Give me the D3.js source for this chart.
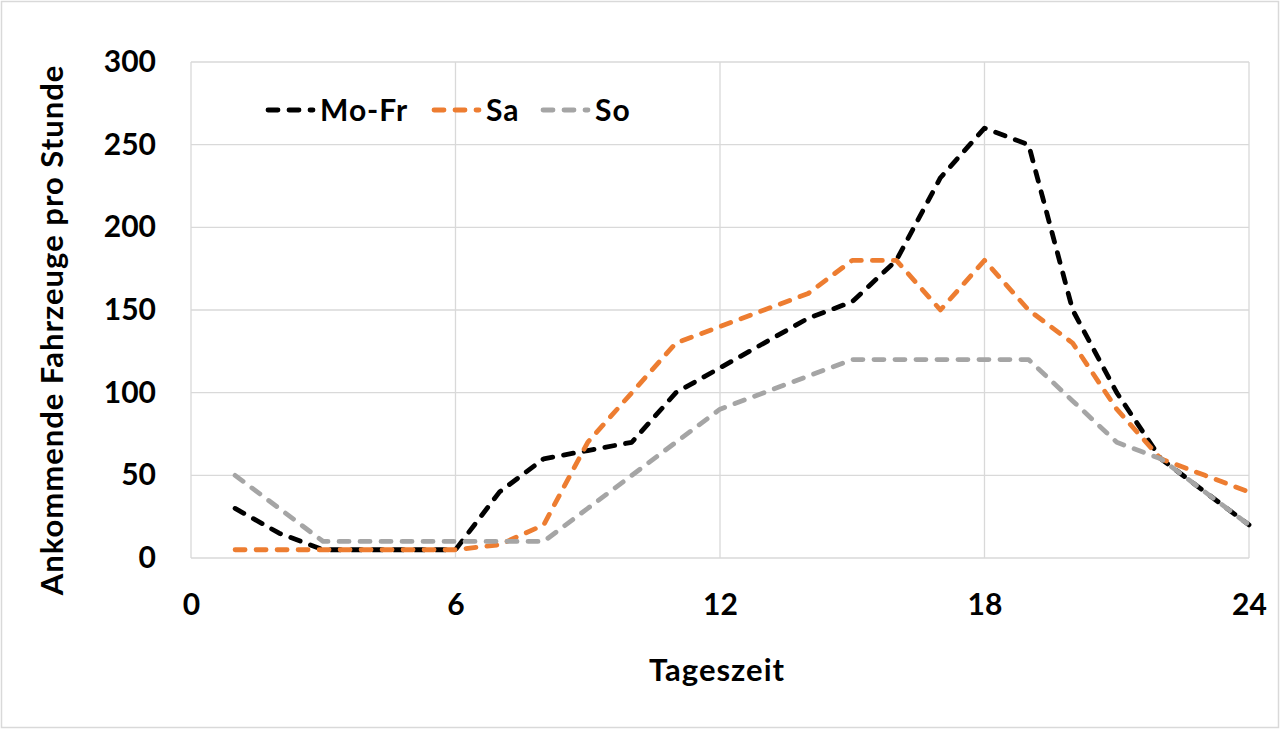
<!DOCTYPE html>
<html>
<head>
<meta charset="utf-8">
<script src="https://cdn.jsdelivr.net/npm/d3@7"></script>
<style>
  body { margin: 0; background: #fff; }
  text { font-family: Lato, "Open Sans", sans-serif; font-weight: bold; fill: #000; }
</style>
</head>
<body>
<div id="container"></div>
<script>
/* CONSTANTS AND GLOBALS */
const width = 1280;
const height = 729;
const margin = { top: 62, right: 31, bottom: 171, left: 191 };

/* DATA */
const hours = [1, 2, 3, 4, 5, 6, 7, 8, 9, 10, 11, 12, 13, 14, 15, 16, 17, 18, 19, 20, 21, 22, 23, 24];
const moFr = [30, 15, 5, 5, 5, 5, 40, 60, 65, 70, 100, 115, 130, 145, 155, 180, 230, 260, 250, 150, 100, 60, 40, 20];
const sa   = [5, 5, 5, 5, 5, 5, 8, 20, 70, 100, 130, 140, 150, 160, 180, 180, 150, 180, 150, 130, 90, 60, 50, 40];
const so   = [50, 30, 10, 10, 10, 10, 10, 10, 30, 50, 70, 90, 100, 110, 120, 120, 120, 120, 120, 95, 70, 60, 40, 20];
const seriesNames = ["Mo-Fr", "Sa", "So"];
const colors = ["#000000", "#ED7D31", "#A5A5A5"];
const xTicks = [0, 6, 12, 18, 24];
const yTicks = [0, 50, 100, 150, 200, 250, 300];

const series = [moFr, sa, so].map((vals, i) => ({
  name: seriesNames[i],
  color: colors[i],
  values: vals.map((v, j) => ({ h: hours[j], v: v }))
}));

/* SVG ELEMENT */
const svg = d3.select("#container")
  .append("svg")
  .attr("width", width)
  .attr("height", height);

// outer frame
svg.append("rect")
  .attr("x", 1.5).attr("y", 1.5)
  .attr("width", width - 3).attr("height", height - 3)
  .attr("fill", "none")
  .attr("stroke", "#d9d9d9")
  .attr("stroke-width", 1.5);

/* SCALES */
const xScale = d3.scaleLinear()
  .domain([0, 24])
  .range([margin.left, width - margin.right]);

const yScale = d3.scaleLinear()
  .domain([0, 300])
  .range([height - margin.bottom, margin.top]);

/* GRID */
svg.append("g")
  .selectAll("line")
  .data(yTicks)
  .join("line")
  .attr("x1", xScale(0)).attr("x2", xScale(24))
  .attr("y1", d => yScale(d)).attr("y2", d => yScale(d))
  .attr("stroke", "#d9d9d9").attr("stroke-width", 1.3);

svg.append("g")
  .selectAll("line")
  .data(xTicks)
  .join("line")
  .attr("x1", d => xScale(d)).attr("x2", d => xScale(d))
  .attr("y1", yScale(0)).attr("y2", yScale(300))
  .attr("stroke", "#d9d9d9").attr("stroke-width", 1.3);

/* AXES */
const xAxis = d3.axisBottom(xScale).tickValues(xTicks).tickSize(0).tickPadding(36);
const yAxis = d3.axisLeft(yScale).tickValues(yTicks).tickSize(0).tickPadding(35);

const gx = svg.append("g")
  .attr("transform", `translate(0, ${yScale(0)})`)
  .call(xAxis);
const gy = svg.append("g")
  .attr("transform", `translate(${xScale(0)}, 0)`)
  .call(yAxis);

[gx, gy].forEach(g => {
  g.select(".domain").remove();
  g.selectAll("text")
    .attr("font-family", "Lato, sans-serif")
    .attr("font-weight", "bold")
    .style("font-size", "30px");
});

/* LINES */
const line = d3.line()
  .x(d => xScale(d.h))
  .y(d => yScale(d.v));

svg.append("g")
  .selectAll("path")
  .data(series)
  .join("path")
  .attr("d", d => line(d.values))
  .attr("fill", "none")
  .attr("stroke", d => d.color)
  .attr("stroke-width", 4.8)
  .attr("stroke-dasharray", "10,11")
  .attr("stroke-linecap", "round")
  .attr("stroke-linejoin", "round");

/* LEGEND */
const legendPos = [268, 434, 543];
const legend = svg.append("g")
  .selectAll("g")
  .data(series)
  .join("g")
  .attr("transform", (d, i) => `translate(${legendPos[i]}, 110)`);

legend.append("line")
  .attr("x1", 0).attr("x2", 45)
  .attr("y1", 0).attr("y2", 0)
  .attr("stroke", d => d.color)
  .attr("stroke-width", 4.8)
  .attr("stroke-dasharray", "10,11")
  .attr("stroke-linecap", "round");

legend.append("text")
  .attr("x", 52)
  .attr("dy", "0.36em")
  .style("font-size", "30px")
  .style("letter-spacing", "1px")
  .text(d => d.name);

/* AXIS LABELS */
svg.append("text")
  .attr("x", 717)
  .attr("y", 670)
  .attr("dy", "0.36em")
  .attr("text-anchor", "middle")
  .style("font-size", "31px")
  .style("letter-spacing", "1px")
  .text("Tageszeit");

svg.append("text")
  .attr("transform", "rotate(-90)")
  .attr("x", -330)
  .attr("y", 52)
  .attr("dy", "0.36em")
  .attr("text-anchor", "middle")
  .style("font-size", "31px")
  .style("letter-spacing", "1px")
  .text("Ankommende Fahrzeuge pro Stunde");
</script>
</body>
</html>
